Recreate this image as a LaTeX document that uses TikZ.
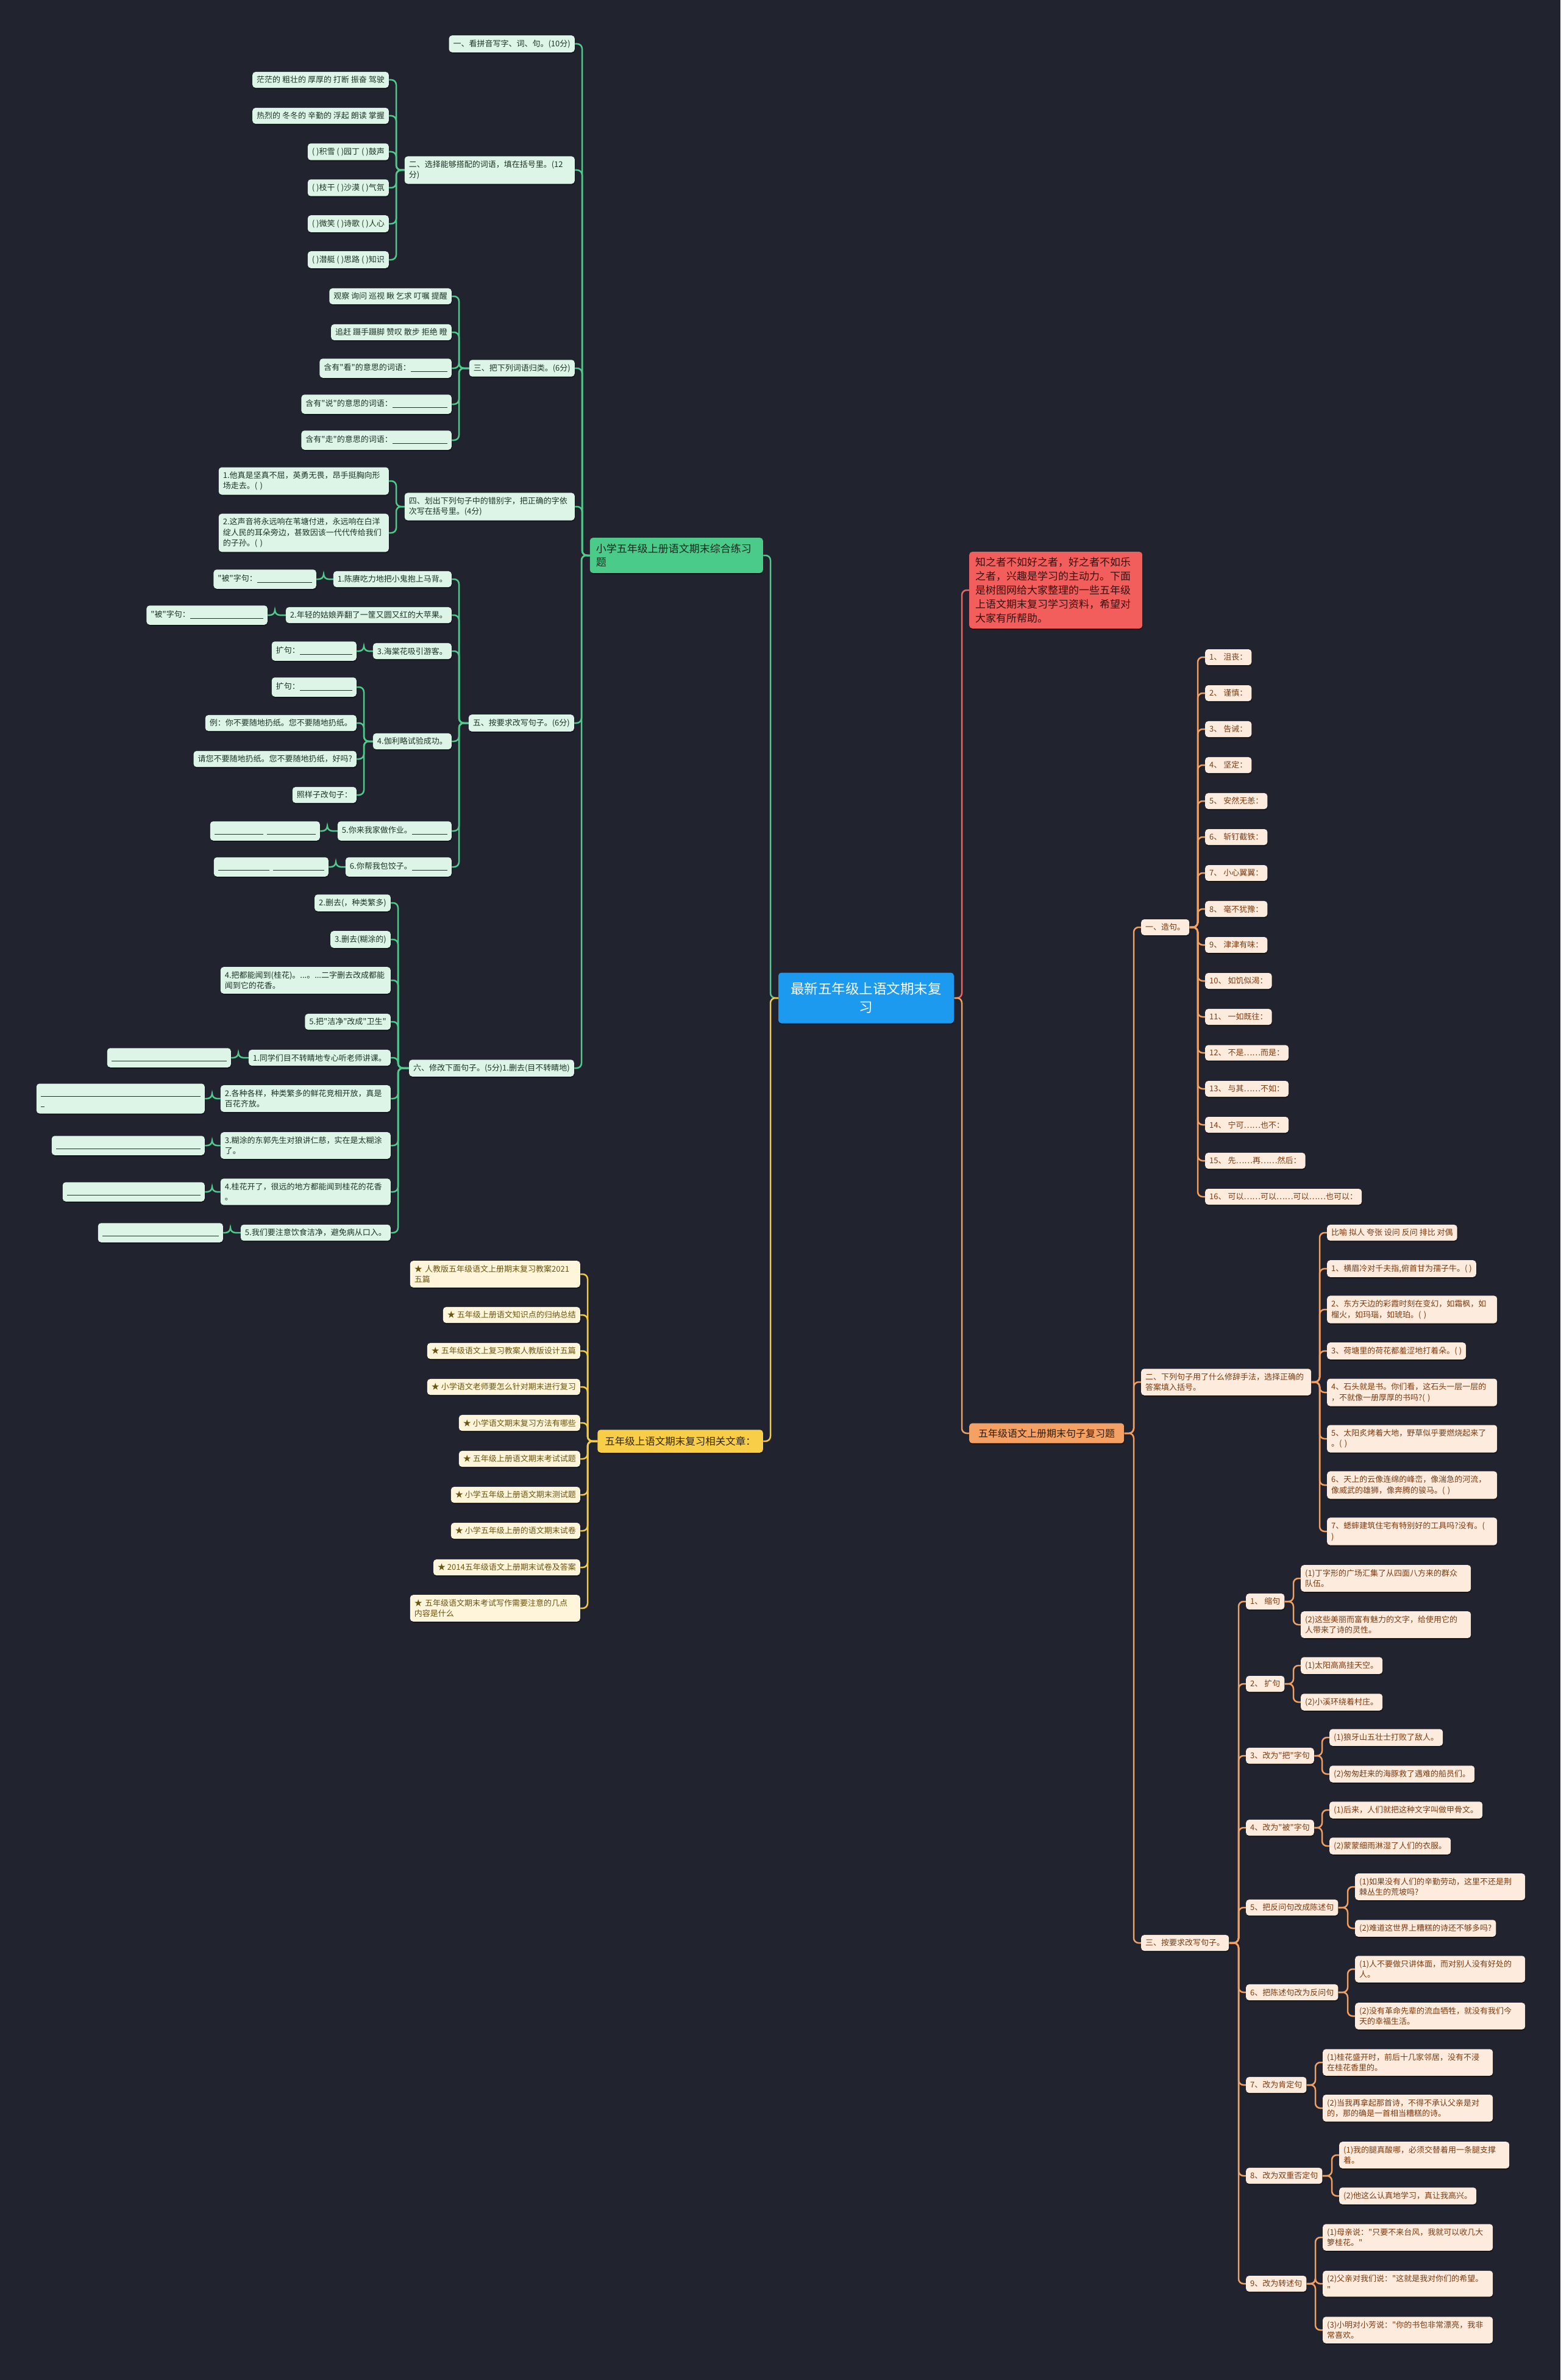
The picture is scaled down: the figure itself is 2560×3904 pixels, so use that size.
\documentclass[tikz,border=0pt]{standalone}
\usepackage{fontspec}
\newfontfamily\cjkf{Noto Sans CJK SC}
\setmainfont{Noto Sans CJK SC}
\usetikzlibrary{calc,shadows,backgrounds}
\setlength{\parindent}{0pt}
\definecolor{bg}{HTML}{21242F}
\definecolor{gcol}{HTML}{50C98C}
\definecolor{gfill}{HTML}{DDF5E7}
\definecolor{gtext}{HTML}{1E3327}
\definecolor{gmainfill}{HTML}{4BCB8A}
\definecolor{gmaintext}{HTML}{16281D}
\definecolor{ycol}{HTML}{F3CB3F}
\definecolor{yfill}{HTML}{FFF5DB}
\definecolor{ytext}{HTML}{6B5410}
\definecolor{ymainfill}{HTML}{F8CE48}
\definecolor{ymaintext}{HTML}{2E2406}
\definecolor{rfill}{HTML}{F25E5B}
\definecolor{rtext}{HTML}{361010}
\definecolor{rcol}{HTML}{EE625F}
\definecolor{ocol}{HTML}{EFA064}
\definecolor{ofill}{HTML}{FDEBDD}
\definecolor{otext}{HTML}{7B3C12}
\definecolor{omainfill}{HTML}{F4A163}
\definecolor{omaintext}{HTML}{2F1A08}
\definecolor{rootfill}{HTML}{1C9AEF}
\newcommand\blank[1]{\strut\rule[-2pt]{#1pt}{0.9pt}}
\newcommand\fsz[2]{\cjkf\fontsize{#1}{#2}\selectfont}
\newcommand\cL[3]{\draw[#1] (#2.west) -| ($(#3.east)+(12,0)$) -- (#3.east);}
\newcommand\cR[3]{\draw[#1] (#2.east) -| ($(#3.west)+(-12,0)$) -- (#3.west);}
\begin{document}
\begin{tikzpicture}[x=1pt,y=-1pt,
  box/.style={rounded corners=5pt, inner xsep=7pt, inner ysep=7pt, font=\fsz{13}{17.5}, align=left,
    drop shadow={shadow xshift=0.8pt, shadow yshift=-2pt, opacity=0.35, fill=black}},
  gbox/.style={box, fill=gfill, text=gtext, anchor=east},
  ybox/.style={box, fill=yfill, text=ytext, anchor=east},
  obox/.style={box, fill=ofill, text=otext, anchor=west},
  wide/.style={text width=265pt},
  gline/.style={draw=gcol, line width=2.5pt, rounded corners=8pt},
  yline/.style={draw=ycol, line width=2.5pt, rounded corners=8pt},
  rline/.style={draw=rcol, line width=2.5pt, rounded corners=8pt},
  oline/.style={draw=ocol, line width=2.5pt, rounded corners=8pt}]
\useasboundingbox (0,0) rectangle (2560,3904);

% ---------- root and main branches ----------
\node[box, fill=rootfill, text=white, font=\fsz{22.5}{30}, align=center, text width=260pt, inner xsep=14pt, minimum height=83pt] (root) at (1421,1637) {最新五年级上语文期末复\\习};
\node[box, fill=gmainfill, text=gmaintext, font=\fsz{17}{22}, text width=264pt, inner xsep=10pt, inner ysep=10pt, anchor=east] (gm) at (1252,911) {小学五年级上册语文期末综合练习\\题};
\node[box, fill=ymainfill, text=ymaintext, font=\fsz{16.5}{22}, inner xsep=12pt, inner ysep=11pt, anchor=east] (ym) at (1252,2364) {五年级上语文期末复习相关文章：};
\node[box, fill=rfill, text=rtext, font=\fsz{17}{23}, text width=264pt, inner xsep=10pt, inner ysep=9pt, anchor=west] (red) at (1590,968) {知之者不如好之者，好之者不如乐\\之者，兴趣是学习的主动力。下面\\是树图网给大家整理的一些五年级\\上语文期末复习学习资料，希望对\\大家有所帮助。};
\node[box, fill=omainfill, text=omaintext, font=\fsz{16}{20}, inner xsep=15pt, inner ysep=9pt, anchor=west] (om) at (1590,2351) {五年级语文上册期末句子复习题};

% ---------- green branch ----------
\node[gbox] (g1) at (943,72) {一、看拼音写字、词、句。(10分)};
\node[gbox, wide] (g2) at (943,279) {二、选择能够搭配的词语，填在括号里。(12\\分)};
\node[gbox] (g2a) at (638,131) {茫茫的 粗壮的 厚厚的 打断 振奋 驾驶};
\node[gbox] (g2b) at (638,190) {热烈的 冬冬的 辛勤的 浮起 朗读 掌握};
\node[gbox] (g2c) at (638,249) {( )积雪 ( )园丁 ( )鼓声};
\node[gbox] (g2d) at (638,308) {( )枝干 ( )沙漠 ( )气氛};
\node[gbox] (g2e) at (638,367) {( )微笑 ( )诗歌 ( )人心};
\node[gbox] (g2f) at (638,426) {( )潜艇 ( )思路 ( )知识};
\node[gbox] (g3) at (943,604) {三、把下列词语归类。(6分)};
\node[gbox] (g3a) at (741,486) {观察 询问 巡视 瞅 乞求 叮嘱 提醒};
\node[gbox] (g3b) at (741,545) {追赶 蹑手蹑脚 赞叹 散步 拒绝 瞪};
\node[gbox] (g3c) at (741,604) {含有"看"的意思的词语：\blank{60}};
\node[gbox] (g3d) at (741,663) {含有"说"的意思的词语：\blank{90}};
\node[gbox] (g3e) at (741,722) {含有"走"的意思的词语：\blank{90}};
\node[gbox, wide] (g4) at (943,831) {四、划出下列句子中的错别字，把正确的字依\\次写在括号里。(4分)};
\node[gbox, wide] (g4a) at (638,789) {1.他真是坚真不屈，英勇无畏，昂手挺胸向形\\场走去。( )};
\node[gbox, wide] (g4b) at (638,874) {2.这声音将永远响在苇塘付进，永远响在白洋\\绽人民的耳朵旁边，甚致因该一代代传给我们\\的子孙。( )};
\node[gbox] (g5) at (942,1186) {五、按要求改写句子。(6分)};
\node[gbox] (g51) at (741,950) {1.陈赓吃力地把小鬼抱上马背。};
\node[gbox] (g51x) at (519,950) {"被"字句：\blank{90}};
\node[gbox] (g52) at (741,1009) {2.年轻的姑娘弄翻了一筐又圆又红的大苹果。};
\node[gbox] (g52x) at (439,1009) {"被"字句：\blank{120}};
\node[gbox] (g53) at (741,1068) {3.海棠花吸引游客。};
\node[gbox] (g53x) at (585,1068) {扩句：\blank{86}};
\node[gbox] (g54) at (741,1216) {4.伽利略试验成功。};
\node[gbox] (g54a) at (585,1127) {扩句：\blank{86}};
\node[gbox] (g54b) at (585,1186) {例：你不要随地扔纸。您不要随地扔纸。};
\node[gbox] (g54c) at (585,1245) {请您不要随地扔纸。您不要随地扔纸，好吗?};
\node[gbox] (g54d) at (585,1304) {照样子改句子：};
\node[gbox] (g55) at (741,1363) {5.你来我家做作业。\blank{58}};
\node[gbox] (g55x) at (525,1363) {\blank{80}\hspace{6pt}\blank{80}};
\node[gbox] (g56) at (741,1422) {6.你帮我包饺子。\blank{58}};
\node[gbox] (g56x) at (539,1422) {\blank{84}\hspace{6pt}\blank{84}};
\node[gbox] (g6) at (942,1752) {六、修改下面句子。(5分)1.删去(目不转睛地)};
\node[gbox] (g6a) at (641,1481) {2.删去(，种类繁多)};
\node[gbox] (g6b) at (641,1541) {3.删去(糊涂的)};
\node[gbox, wide] (g6c) at (641,1608) {4.把都能闻到(桂花)。...。...二字删去改成都能\\闻到它的花香。};
\node[gbox] (g6d) at (641,1676) {5.把"洁净"改成"卫生"};
\node[gbox] (g6e) at (641,1735) {1.同学们目不转睛地专心听老师讲课。};
\node[gbox] (g6ex) at (379,1735) {\blank{189}};
\node[gbox, wide] (g6f) at (641,1802) {2.各种各样，种类繁多的鲜花竞相开放，真是\\百花齐放。};
\node[gbox] (g6fx) at (336,1802) {\blank{262}\\\blank{6}};
\node[gbox, wide] (g6g) at (641,1879) {3.糊涂的东郭先生对狼讲仁慈，实在是太糊涂\\了。};
\node[gbox] (g6gx) at (336,1879) {\blank{237}};
\node[gbox, wide] (g6h) at (641,1955) {4.桂花开了，很远的地方都能闻到桂花的花香\\。};
\node[gbox] (g6hx) at (336,1955) {\blank{219}};
\node[gbox] (g6i) at (641,2022) {5.我们要注意饮食洁净，避免病从口入。};
\node[gbox] (g6ix) at (366,2022) {\blank{191}};

% ---------- yellow branch ----------
\node[ybox, wide] (y1) at (952,2090) {★~人教版五年级语文上册期末复习教案2021\\五篇};
\node[ybox] (y2) at (952,2157) {★ 五年级上册语文知识点的归纳总结};
\node[ybox] (y3) at (952,2216) {★ 五年级语文上复习教案人教版设计五篇};
\node[ybox] (y4) at (952,2275) {★ 小学语文老师要怎么针对期末进行复习};
\node[ybox] (y5) at (952,2334) {★ 小学语文期末复习方法有哪些};
\node[ybox] (y6) at (952,2393) {★ 五年级上册语文期末考试试题};
\node[ybox] (y7) at (952,2452) {★ 小学五年级上册语文期末测试题};
\node[ybox] (y8) at (952,2511) {★ 小学五年级上册的语文期末试卷};
\node[ybox] (y9) at (952,2571) {★ 2014五年级语文上册期末试卷及答案};
\node[ybox, wide] (y10) at (952,2638) {★~五年级语文期末考试写作需要注意的几点\\内容是什么};

% ---------- orange branch ----------
\node[obox] (o1) at (1872,1521) {一、造句。};
\node[obox] (z1) at (1977,1078) {1、 沮丧：};
\node[obox] (z2) at (1977,1137) {2、 谨慎：};
\node[obox] (z3) at (1977,1196) {3、 告诫：};
\node[obox] (z4) at (1977,1255) {4、 坚定：};
\node[obox] (z5) at (1977,1314) {5、 安然无恙：};
\node[obox] (z6) at (1977,1373) {6、 斩钉截铁：};
\node[obox] (z7) at (1977,1432) {7、 小心翼翼：};
\node[obox] (z8) at (1977,1491) {8、 毫不犹豫：};
\node[obox] (z9) at (1977,1550) {9、 津津有味：};
\node[obox] (z10) at (1977,1609) {10、 如饥似渴：};
\node[obox] (z11) at (1977,1668) {11、 一如既往：};
\node[obox] (z12) at (1977,1727) {12、 不是……而是：};
\node[obox] (z13) at (1977,1786) {13、 与其……不如：};
\node[obox] (z14) at (1977,1845) {14、 宁可……也不：};
\node[obox] (z15) at (1977,1904) {15、 先……再……然后：};
\node[obox] (z16) at (1977,1963) {16、 可以……可以……可以……也可以：};

\node[obox, wide] (o2) at (1872,2267) {二、下列句子用了什么修辞手法，选择正确的\\答案填入括号。};
\node[obox] (p0) at (2177,2022) {比喻 拟人 夸张 设问 反问 排比 对偶};
\node[obox] (p1) at (2177,2081) {1、横眉冷对千夫指,俯首甘为孺子牛。( )};
\node[obox, wide] (p2) at (2177,2148) {2、东方天边的彩霞时刻在变幻，如霜枫，如\\榴火，如玛瑙，如琥珀。( )};
\node[obox] (p3) at (2177,2216) {3、荷塘里的荷花都羞涩地打着朵。( )};
\node[obox, wide] (p4) at (2177,2284) {4、石头就是书。你们看，这石头一层一层的\\，不就像一册厚厚的书吗?( )};
\node[obox, wide] (p5) at (2177,2360) {5、太阳炙烤着大地，野草似乎要燃烧起来了\\。( )};
\node[obox, wide] (p6) at (2177,2436) {6、天上的云像连绵的峰峦，像湍急的河流，\\像威武的雄狮，像奔腾的骏马。( )};
\node[obox, wide] (p7) at (2177,2512) {7、蟋蟀建筑住宅有特别好的工具吗?没有。(\\)};

\node[obox] (o3) at (1872,3187) {三、按要求改写句子。};
\node[obox] (q1) at (2044,2627) {1、 缩句};
\node[obox, wide] (q1a) at (2134,2589) {(1)丁字形的广场汇集了从四面八方来的群众\\队伍。};
\node[obox, wide] (q1b) at (2134,2665) {(2)这些美丽而富有魅力的文字，给使用它的\\人带来了诗的灵性。};
\node[obox] (q2) at (2044,2762) {2、 扩句};
\node[obox] (q2a) at (2134,2732) {(1)太阳高高挂天空。};
\node[obox] (q2b) at (2134,2792) {(2)小溪环绕着村庄。};
\node[obox] (q3) at (2044,2880) {3、改为"把"字句};
\node[obox] (q3a) at (2181,2850) {(1)狼牙山五壮士打败了敌人。};
\node[obox] (q3b) at (2181,2910) {(2)匆匆赶来的海豚救了遇难的船员们。};
\node[obox] (q4) at (2044,2998) {4、改为"被"字句};
\node[obox] (q4a) at (2181,2969) {(1)后来，人们就把这种文字叫做甲骨文。};
\node[obox] (q4b) at (2181,3028) {(2)蒙蒙细雨淋湿了人们的衣服。};
\node[obox] (q5) at (2044,3129) {5、把反问句改成陈述句};
\node[obox, wide] (q5a) at (2223,3095) {(1)如果没有人们的辛勤劳动，这里不还是荆\\棘丛生的荒坡吗?};
\node[obox] (q5b) at (2223,3163) {(2)难道这世界上糟糕的诗还不够多吗?};
\node[obox] (q6) at (2044,3268) {6、把陈述句改为反问句};
\node[obox, wide] (q6a) at (2223,3230) {(1)人不要做只讲体面，而对别人没有好处的\\人。};
\node[obox, wide] (q6b) at (2223,3307) {(2)没有革命先辈的流血牺牲，就没有我们今\\天的幸福生活。};
\node[obox] (q7) at (2044,3420) {7、改为肯定句};
\node[obox, wide] (q7a) at (2170,3383) {(1)桂花盛开时，前后十几家邻居，没有不浸\\在桂花香里的。};
\node[obox, wide] (q7b) at (2170,3458) {(2)当我再拿起那首诗，不得不承认父亲是对\\的，那的确是一首相当糟糕的诗。};
\node[obox] (q8) at (2044,3569) {8、改为双重否定句};
\node[obox, wide] (q8a) at (2197,3535) {(1)我的腿真酸哪，必须交替着用一条腿支撑\\着。};
\node[obox] (q8b) at (2197,3602) {(2)他这么认真地学习，真让我高兴。};
\node[obox] (q9) at (2044,3746) {9、改为转述句};
\node[obox, wide] (q9a) at (2170,3670) {(1)母亲说："只要不来台风，我就可以收几大\\箩桂花。"};
\node[obox, wide] (q9b) at (2170,3746) {(2)父亲对我们说："这就是我对你们的希望。\\"};
\node[obox, wide] (q9c) at (2170,3822) {(3)小明对小芳说："你的书包非常漂亮，我非\\常喜欢。};

% ---------- connectors ----------
\begin{scope}[on background layer]
\fill[bg] (0,0) rectangle (2560,3904);
\cL{gline}{root}{gm}
\cR{rline}{root}{red}
\cL{yline}{root}{ym}
\cR{oline}{root}{om}
% green
\foreach \c in {g1,g2,g3,g4,g5,g6} {\cL{gline}{gm}{\c}}
\foreach \c in {g2a,g2b,g2c,g2d,g2e,g2f} {\cL{gline}{g2}{\c}}
\foreach \c in {g3a,g3b,g3c,g3d,g3e} {\cL{gline}{g3}{\c}}
\foreach \c in {g4a,g4b} {\cL{gline}{g4}{\c}}
\foreach \c in {g51,g52,g53,g54,g55,g56} {\cL{gline}{g5}{\c}}
\cL{gline}{g51}{g51x}
\cL{gline}{g52}{g52x}
\cL{gline}{g53}{g53x}
\foreach \c in {g54a,g54b,g54c,g54d} {\cL{gline}{g54}{\c}}
\cL{gline}{g55}{g55x}
\cL{gline}{g56}{g56x}
\foreach \c in {g6a,g6b,g6c,g6d,g6e,g6f,g6g,g6h,g6i} {\cL{gline}{g6}{\c}}
\cL{gline}{g6e}{g6ex}
\cL{gline}{g6f}{g6fx}
\cL{gline}{g6g}{g6gx}
\cL{gline}{g6h}{g6hx}
\cL{gline}{g6i}{g6ix}
% yellow
\foreach \c in {y1,y2,y3,y4,y5,y6,y7,y8,y9,y10} {\cL{yline}{ym}{\c}}
% orange
\foreach \c in {o1,o2,o3} {\cR{oline}{om}{\c}}
\foreach \c in {z1,z2,z3,z4,z5,z6,z7,z8,z9,z10,z11,z12,z13,z14,z15,z16} {\cR{oline}{o1}{\c}}
\foreach \c in {p0,p1,p2,p3,p4,p5,p6,p7} {\cR{oline}{o2}{\c}}
\foreach \c in {q1,q2,q3,q4,q5,q6,q7,q8,q9} {\cR{oline}{o3}{\c}}
\cR{oline}{q1}{q1a}\cR{oline}{q1}{q1b}
\cR{oline}{q2}{q2a}\cR{oline}{q2}{q2b}
\cR{oline}{q3}{q3a}\cR{oline}{q3}{q3b}
\cR{oline}{q4}{q4a}\cR{oline}{q4}{q4b}
\cR{oline}{q5}{q5a}\cR{oline}{q5}{q5b}
\cR{oline}{q6}{q6a}\cR{oline}{q6}{q6b}
\cR{oline}{q7}{q7a}\cR{oline}{q7}{q7b}
\cR{oline}{q8}{q8a}\cR{oline}{q8}{q8b}
\cR{oline}{q9}{q9a}\cR{oline}{q9}{q9b}\cR{oline}{q9}{q9c}
\end{scope}
\end{tikzpicture}
\end{document}
